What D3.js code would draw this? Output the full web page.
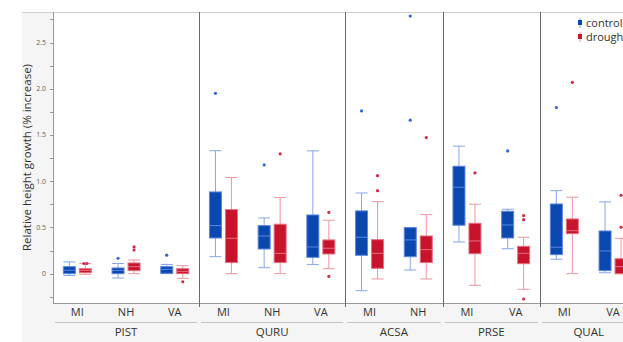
<!DOCTYPE html>
<html>
<head>
<meta charset="utf-8">
<script src="https://cdn.jsdelivr.net/npm/d3@7"></script>
<style>
  body { margin: 0; background: #fff; }
  svg { display: block; font-family: "Open Sans", "Noto Sans", sans-serif; }
</style>
</head>
<body>
<div id="chart"></div>
<script>
// species panels and the sites inside each one
const species = ['PIST', 'QURU', 'ACSA', 'PRSE', 'QUAL'];
const sites = [['MI', 'NH', 'VA'], ['MI', 'NH', 'VA'], ['MI', 'NH'], ['MI', 'VA'], ['MI', 'VA']];
const treatments = ['control', 'drought'];

// box stats per group: [whisker low, q1, median, q3, whisker high]
const controlStats = [
  [-0.02, 0.0, 0.037, 0.076, 0.127],
  [-0.047, 0.0, 0.035, 0.062, 0.11],
  [0.0, 0.004, 0.047, 0.076, 0.1],
  [0.184, 0.386, 0.52, 0.884, 1.33],
  [0.065, 0.267, 0.408, 0.52, 0.603],
  [0.1, 0.177, 0.289, 0.635, 1.328],
  [-0.184, 0.199, 0.394, 0.679, 0.873],
  [0.04, 0.184, 0.365, 0.498, 0.5],
  [0.343, 0.524, 0.935, 1.162, 1.379],
  [0.27, 0.386, 0.527, 0.675, 0.697],
  [0.156, 0.206, 0.286, 0.754, 0.898],
  [0.01, 0.033, 0.246, 0.462, 0.776]
];
const droughtStats = [
  [-0.006, 0.011, 0.035, 0.054, 0.11],
  [0.0, 0.033, 0.076, 0.116, 0.148],
  [-0.05, 0.0, 0.025, 0.054, 0.087],
  [0.0, 0.12, 0.383, 0.693, 1.04],
  [0.0, 0.12, 0.22, 0.535, 0.823],
  [0.054, 0.213, 0.275, 0.365, 0.578],
  [-0.057, 0.058, 0.22, 0.368, 0.779],
  [-0.057, 0.12, 0.26, 0.408, 0.639],
  [-0.126, 0.216, 0.354, 0.545, 0.751],
  [-0.169, 0.108, 0.22, 0.296, 0.394],
  [0.0, 0.433, 0.465, 0.592, 0.827],
  [0.0, 0.0, 0.076, 0.162, 0.383]
];
const controlOutliers = [
  [], [0.167], [0.2],
  [1.95], [1.176], [],
  [1.76], [2.786, 1.66],
  [], [1.328],
  [1.797], []
];
const droughtOutliers = [
  [0.11, 0.11], [0.289, 0.256], [-0.087],
  [], [1.296], [0.664, -0.028],
  [1.06, 0.898], [1.472],
  [1.09], [0.628, 0.584, -0.274],
  [2.07], [0.848, 0.502]
];
const yTicks = [-0.25, 0, 0.25, 0.5, 0.75, 1, 1.25, 1.5, 1.75, 2, 2.25, 2.5, 2.75];
const yLabels = [0, 0.5, 1, 1.5, 2, 2.5];

const width = 623;
const height = 342;
const plot = { left: 53, top: 12, bottom: 303, groupWidth: 48.7 };

const colors = {
  control: { fill: '#0a47ae', edge: '#5b86e0', whisker: '#86a6ec', dot: '#2f66d8' },
  drought: { fill: '#c8132d', edge: '#e4707f', whisker: '#eb96a2', dot: '#d32a48' }
};

// flatten groups
const groups = [];
species.forEach((sp, i) => {
  sites[i].forEach(site => groups.push({ species: sp, panel: i, site }));
});
groups.forEach((g, i) => {
  g.key = i;
  g.control = { stats: controlStats[i], outliers: controlOutliers[i] };
  g.drought = { stats: droughtStats[i], outliers: droughtOutliers[i] };
});

const svg = d3.select('#chart').append('svg')
  .attr('width', width).attr('height', height);

const x = d3.scaleBand()
  .domain(groups.map(g => g.key))
  .range([plot.left, plot.left + groups.length * plot.groupWidth]);
const inner = d3.scalePoint()
  .domain(treatments)
  .range([x.bandwidth() / 2 - 8, x.bandwidth() / 2 + 8]);
const y = d3.scaleLinear().domain([-0.317, 2.83]).range([plot.bottom, plot.top]);

const plotRight = x.range()[1];

// background
svg.append('rect').attr('x', 22).attr('y', plot.top).attr('width', width).attr('height', height)
  .attr('fill', '#f5f5f5');
svg.append('rect').attr('x', plot.left).attr('y', plot.top)
  .attr('width', plotRight - plot.left).attr('height', plot.bottom - plot.top)
  .attr('fill', '#fff');
svg.append('line').attr('x1', 22).attr('x2', width).attr('y1', plot.top + 0.5).attr('y2', plot.top + 0.5)
  .attr('stroke', '#cfcfcf');

// y axis
const yAxis = svg.append('g');
yAxis.selectAll('line').data(yTicks).join('line')
  .attr('x1', plot.left - 3).attr('x2', plot.left)
  .attr('y1', d => Math.round(y(d)) + 0.5).attr('y2', d => Math.round(y(d)) + 0.5)
  .attr('stroke', '#999');
yAxis.selectAll('text').data(yLabels).join('text')
  .attr('x', plot.left - 7).attr('y', d => y(d) + 2.5)
  .attr('text-anchor', 'end')
  .attr('font-size', 7).attr('fill', '#666')
  .text(d => d === 0 ? '0' : d.toFixed(1));
svg.append('line').attr('x1', plot.left + 0.5).attr('x2', plot.left + 0.5)
  .attr('y1', plot.top).attr('y2', plot.bottom).attr('stroke', '#999');
svg.append('line').attr('x1', plot.left).attr('x2', plotRight)
  .attr('y1', plot.bottom + 0.5).attr('y2', plot.bottom + 0.5).attr('stroke', '#999');

svg.append('text')
  .attr('transform', `translate(31, ${(plot.top + plot.bottom) / 2}) rotate(-90)`)
  .attr('text-anchor', 'middle')
  .attr('font-size', 11.5).attr('fill', '#333')
  .text('Relative height growth (% increase)');

// panels
const panels = species.map((sp, i) => {
  const keys = groups.filter(g => g.panel === i).map(g => g.key);
  return { species: sp, x0: x(keys[0]), x1: x(keys[keys.length - 1]) + x.bandwidth() };
});

svg.append('g').selectAll('line').data(panels.slice(1)).join('line')
  .attr('x1', d => Math.round(d.x0) + 0.5).attr('x2', d => Math.round(d.x0) + 0.5)
  .attr('y1', plot.top).attr('y2', plot.bottom + 4)
  .attr('stroke', '#6a6a6a');

svg.append('g').selectAll('line').data(panels).join('line')
  .attr('x1', d => d.x0 + 2).attr('x2', d => d.x1 - 2)
  .attr('y1', 322.5).attr('y2', 322.5)
  .attr('stroke', '#c4c4c4');

svg.append('g').selectAll('text').data(panels).join('text')
  .attr('x', d => (d.x0 + d.x1) / 2).attr('y', 336)
  .attr('text-anchor', 'middle')
  .attr('font-size', 11.5).attr('fill', '#333')
  .text(d => d.species);

svg.append('g').selectAll('text').data(groups).join('text')
  .attr('x', d => x(d.key) + x.bandwidth() / 2).attr('y', 316)
  .attr('text-anchor', 'middle')
  .attr('font-size', 11).attr('fill', '#333')
  .text(d => d.site);

// boxes
const boxW = 12;
const gBoxes = svg.append('g');
groups.forEach(g => {
  treatments.forEach(t => {
    const c = colors[t];
    const [lo, q1, med, q3, hi] = g[t].stats;
    const cx = x(g.key) + inner(t);
    const b = gBoxes.append('g');

    b.append('line').attr('x1', cx).attr('x2', cx).attr('y1', y(hi)).attr('y2', y(lo))
      .attr('stroke', c.whisker);
    [lo, hi].forEach(v => {
      b.append('line').attr('x1', cx - boxW / 2).attr('x2', cx + boxW / 2)
        .attr('y1', y(v)).attr('y2', y(v)).attr('stroke', c.whisker);
    });
    b.append('rect')
      .attr('x', cx - boxW / 2).attr('y', y(q3))
      .attr('width', boxW).attr('height', Math.max(1, y(q1) - y(q3)))
      .attr('fill', c.fill).attr('stroke', c.edge).attr('stroke-width', 1);
    b.append('line').attr('x1', cx - boxW / 2).attr('x2', cx + boxW / 2)
      .attr('y1', y(med)).attr('y2', y(med))
      .attr('stroke', c.edge).attr('stroke-width', 1);

    // outliers, side by side when equal
    const counts = d3.rollup(g[t].outliers, v => v.length, d => d);
    const seen = new Map();
    g[t].outliers.forEach(v => {
      const n = counts.get(v);
      const k = seen.get(v) || 0;
      seen.set(v, k + 1);
      b.append('circle')
        .attr('cx', cx + (k - (n - 1) / 2) * 3).attr('cy', y(v))
        .attr('r', 1.6).attr('fill', c.dot);
    });
  });
});

// legend
const legend = svg.append('g').attr('transform', 'translate(580, 23)');
treatments.forEach((t, i) => {
  const row = legend.append('g').attr('transform', `translate(0, ${i * 14})`);
  row.append('line').attr('x1', 0).attr('x2', 0).attr('y1', -5).attr('y2', 5)
    .attr('stroke', colors[t].whisker);
  row.append('rect').attr('x', -2).attr('y', -3).attr('width', 4).attr('height', 5)
    .attr('fill', colors[t].fill);
  row.append('text').attr('x', 6).attr('y', 4)
    .attr('font-size', 11).attr('fill', '#333')
    .text(t);
});
</script>
</body>
</html>
